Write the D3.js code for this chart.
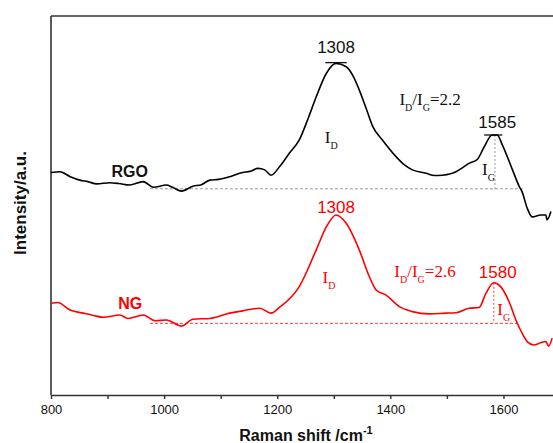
<!DOCTYPE html>
<html>
<head>
<meta charset="utf-8">
<script src="https://cdn.jsdelivr.net/npm/d3@7"></script>
<style>
  body { margin: 0; background: #fff; }
  svg { display: block; font-family: "Liberation Sans", Arial, sans-serif; }
  .serif { font-family: "Liberation Serif", "Times New Roman", serif; }
</style>
</head>
<body>
<svg id="chart" width="553" height="443"></svg>
<script>
// Raman spectra, stacked (intensity in a.u., offset as plotted)
const rgoShift = [800, 816, 834, 851, 865, 881, 904, 920, 939, 963, 981, 1004, 1015, 1031, 1051, 1066, 1081, 1096, 1116, 1139,
                  1152, 1166, 1178, 1189, 1204, 1222, 1239, 1255, 1269, 1287, 1304, 1322, 1334, 1345, 1357, 1369, 1386, 1410, 1425, 1439,
                  1463, 1478, 1492, 1505, 1516, 1530, 1539, 1554, 1566, 1580, 1589, 1598, 1616, 1628, 1633, 1642, 1651, 1666, 1675, 1677, 1684];
const rgoInt   = [587, 589, 576, 567, 563, 557, 560, 558, 554, 563, 548, 554, 548, 538, 551, 555, 567, 569, 576, 587,
                  590, 598, 594, 580, 602, 639, 673, 731, 787, 849, 875, 866, 842, 805, 757, 708, 673, 629, 607, 594,
                  585, 579, 580, 583, 589, 602, 611, 622, 655, 686, 686, 660, 594, 550, 536, 493, 470, 475, 475, 462, 484];

const ngShift = [800, 812, 834, 857, 875, 892, 922, 936, 963, 984, 1004, 1031, 1051, 1081, 1116, 1139, 1169, 1189, 1204, 1239,
                 1269, 1287, 1304, 1322, 1345, 1363, 1375, 1392, 1416, 1439, 1469, 1498, 1516, 1539, 1557, 1569, 1583, 1595, 1610, 1622,
                 1633, 1642, 1654, 1666, 1675, 1680, 1686];
const ngInt   = [242, 244, 224, 216, 210, 205, 211, 202, 211, 196, 198, 182, 200, 202, 216, 222, 229, 216, 231, 286,
                 383, 444, 475, 453, 383, 312, 277, 264, 233, 220, 214, 216, 217, 229, 231, 268, 296, 286, 246, 198,
                 163, 141, 132, 138, 141, 129, 150];

const xTicks = [800, 900, 1000, 1100, 1200, 1300, 1400, 1500, 1600, 1700];

// baselines [from, to, level], G-band marker [shift, top, bottom], peak caps [from, to, level]
const rgoBase = [975, 1634, 544];
const ngBase  = [975, 1625, 189];
const rgoGMark = [1585, 686, 544];
const ngGMark  = [1583, 296, 189];
const rgoCaps = [[1285, 1323, 877], [1566, 1598, 686]];

const margin = {top: 16, left: 51, bottom: 48};
const width = 553, height = 443;

const x = d3.scaleLinear().domain([800, 1700]).range([margin.left, 560]);
const y = d3.scaleLinear().domain([0, 1000]).range([height - margin.bottom, margin.top]);

const svg = d3.select("#chart");

// frame
svg.append("line").attr("x1", x(800)).attr("x2", x(1700)).attr("y1", y(1000)).attr("y2", y(1000))
    .attr("stroke", "#333").attr("stroke-width", 1.6);
svg.append("line").attr("x1", x(800)).attr("x2", x(800)).attr("y1", y(1000)).attr("y2", y(0))
    .attr("stroke", "#333").attr("stroke-width", 1.6);

const xAxis = svg.append("g")
    .attr("transform", `translate(0,${y(0)})`)
    .call(d3.axisBottom(x).tickValues(xTicks).tickSize(4).tickSizeOuter(0)
        .tickFormat(d => d % 200 === 0 ? d : ""));
xAxis.select(".domain").attr("stroke", "#333").attr("stroke-width", 1.6);
xAxis.selectAll(".tick line").attr("stroke", "#333").attr("stroke-width", 1.4);
xAxis.selectAll(".tick text").attr("font-size", 13).attr("fill", "#111")
    .attr("font-family", "Liberation Sans, Arial, sans-serif").attr("y", 10);

// axis titles
const xt = svg.append("text").attr("x", 306).attr("y", 441).attr("text-anchor", "middle")
    .attr("font-size", 16).attr("font-weight", "bold").attr("fill", "#111");
xt.append("tspan").text("Raman shift /cm");
xt.append("tspan").attr("font-size", 11).attr("dy", -7).text("-1");

svg.append("text").attr("transform", "translate(26,203) rotate(-90)").attr("text-anchor", "middle")
    .attr("font-size", 17).attr("font-weight", "bold").attr("fill", "#111").text("Intensity/a.u.");

// spectra
const line = d3.line().x(d => x(d[0])).y(d => y(d[1])).curve(d3.curveMonotoneX);
const rgo = rgoShift.map((s, i) => [s, rgoInt[i]]);
const ng = ngShift.map((s, i) => [s, ngInt[i]]);

// guides
function guides(base, mark, color) {
  svg.append("line").attr("x1", x(base[0])).attr("x2", x(base[1])).attr("y1", y(base[2])).attr("y2", y(base[2]))
      .attr("stroke", color).attr("stroke-width", 1).attr("stroke-dasharray", "3,2");
  svg.append("line").attr("x1", x(mark[0])).attr("x2", x(mark[0])).attr("y1", y(mark[1])).attr("y2", y(mark[2]))
      .attr("stroke", color).attr("stroke-width", 1).attr("stroke-dasharray", "2,2");
}
guides(rgoBase, rgoGMark, "#999");
guides(ngBase, ngGMark, "#f04040");

rgoCaps.forEach(c => {
  svg.append("line").attr("x1", x(c[0])).attr("x2", x(c[1])).attr("y1", y(c[2])).attr("y2", y(c[2]))
      .attr("stroke", "#111").attr("stroke-width", 1.3);
});

svg.append("path").datum(rgo).attr("d", line).attr("fill", "none")
    .attr("stroke", "#000").attr("stroke-width", 1.6).attr("stroke-linejoin", "round");
svg.append("path").datum(ng).attr("d", line).attr("fill", "none")
    .attr("stroke", "#ff0000").attr("stroke-width", 1.6).attr("stroke-linejoin", "round");

// labels
function label(s, v, txt, color, opts) {
  return svg.append("text").attr("x", x(s)).attr("y", y(v)).attr("fill", color)
      .attr("font-size", opts.size).attr("font-weight", opts.bold ? "bold" : null)
      .attr("text-anchor", opts.anchor || "start").text(txt);
}
label(1304, 903, "1308", "#111", {size: 17, anchor: "middle"});
label(1589, 704, "1585", "#111", {size: 17, anchor: "middle"});
label(1304, 479, "1308", "#ff0000", {size: 17, anchor: "middle"});
label(1590, 308, "1580", "#ff0000", {size: 17, anchor: "middle"});
label(907, 574, "RGO", "#111", {size: 16, bold: true});
label(919, 227, "NG", "#ff0000", {size: 16, bold: true});

function intensity(s, v, sub, color) {
  const t = svg.append("text").attr("class", "serif").attr("x", x(s)).attr("y", y(v))
      .attr("fill", color).attr("font-size", 17);
  t.append("tspan").text("I");
  t.append("tspan").attr("font-size", 10).attr("dy", 6).text(sub);
  return t;
}
function ratio(s, v, val, color) {
  const t = svg.append("text").attr("class", "serif").attr("x", x(s)).attr("y", y(v))
      .attr("fill", color).attr("font-size", 17);
  t.append("tspan").text("I");
  t.append("tspan").attr("font-size", 10).attr("dy", 6).text("D");
  t.append("tspan").attr("dy", -6).text("/I");
  t.append("tspan").attr("font-size", 10).attr("dy", 6).text("G");
  t.append("tspan").attr("dy", -6).text("=" + val);
}
intensity(1284, 665, "D", "#111");
intensity(1562, 580, "G", "#111");
intensity(1280, 295, "D", "#ff0000");
intensity(1589, 211, "G", "#ff0000");
ratio(1416, 765, "2.2", "#111");
ratio(1407, 312, "2.6", "#ff0000");
</script>
</body>
</html>
